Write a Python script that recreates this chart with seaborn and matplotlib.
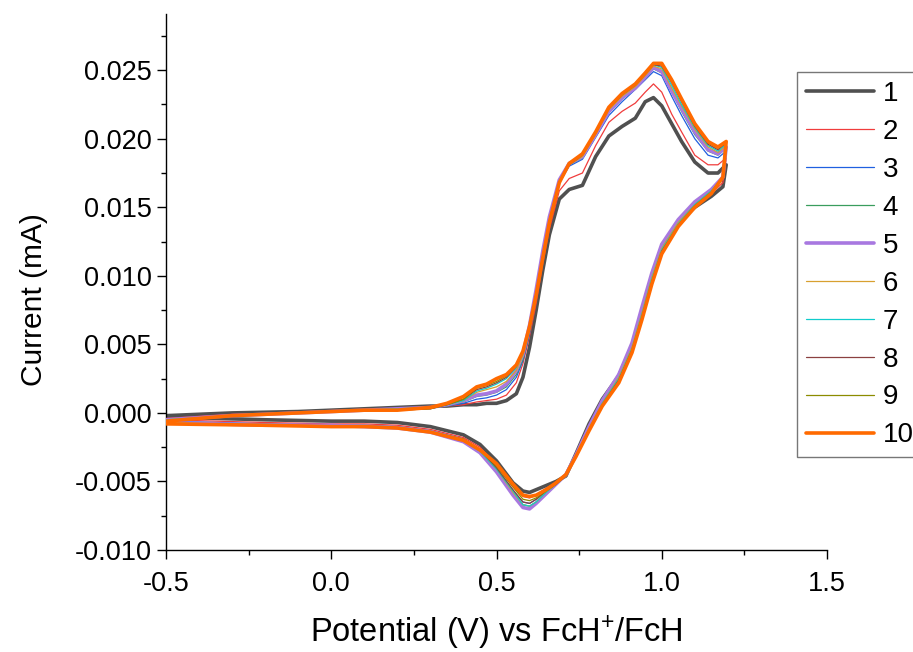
import matplotlib
matplotlib.use("Agg")
import matplotlib.pyplot as plt
from matplotlib.ticker import MultipleLocator, FormatStrFormatter
import seaborn as sns
import pandas as pd

# ---------------- data ----------------
cycles = ["1", "2", "3", "4", "5", "6", "7", "8", "9", "10"]
colors = ["#505050", "#f03c3c", "#2060e0", "#3a9d5d", "#a878e0",
          "#d8a030", "#10cccc", "#8b4040", "#8c8c00", "#ff6a00"]
widths = [2.6, 0.9, 0.9, 0.9, 2.6, 0.9, 0.9, 0.9, 0.9, 2.6]

# forward (anodic) scan potentials, V
E_fwd = [-0.5, -0.3, -0.1, 0.0, 0.1, 0.2, 0.3, 0.35, 0.4, 0.44, 0.47, 0.5,
         0.53, 0.56, 0.58, 0.6, 0.62, 0.64, 0.66, 0.69, 0.72, 0.76, 0.8,
         0.84, 0.88, 0.92, 0.95, 0.975, 1.0, 1.03, 1.06, 1.1, 1.14, 1.17, 1.195]
# reverse (cathodic) scan potentials, V
E_rev = [1.195, 1.185, 1.15, 1.1, 1.05, 1.0, 0.97, 0.94, 0.91, 0.87, 0.82,
         0.78, 0.74, 0.71, 0.68, 0.65, 0.62, 0.6, 0.58, 0.55, 0.5, 0.45, 0.4,
         0.3, 0.2, 0.1, 0.0, -0.2, -0.5]

I_fwd_1 = [-0.0002, 0.0000, 0.0001, 0.0002, 0.0003, 0.0004, 0.0005, 0.0005, 0.0006, 0.0006, 0.0007, 0.0007, 0.0009, 0.0014, 0.0026, 0.0048, 0.0075, 0.0104, 0.0130, 0.0156, 0.0163, 0.0166, 0.0187, 0.0202, 0.0209, 0.0215, 0.0227, 0.0230, 0.0224, 0.0211, 0.0198, 0.0183, 0.0175, 0.0175, 0.0181]
I_fwd_2 = [-0.0004, -0.0001, 0.0000, 0.0001, 0.0002, 0.0003, 0.0004, 0.0005, 0.0006, 0.0008, 0.0009, 0.0010, 0.0013, 0.0022, 0.0036, 0.0056, 0.0080, 0.0109, 0.0134, 0.0162, 0.0171, 0.0175, 0.0195, 0.0212, 0.0220, 0.0226, 0.0234, 0.0240, 0.0234, 0.0218, 0.0205, 0.0188, 0.0181, 0.0181, 0.0186]
I_fwd_3 = [-0.0005, -0.0002, 0.0000, 0.0001, 0.0002, 0.0003, 0.0004, 0.0005, 0.0007, 0.0010, 0.0011, 0.0013, 0.0017, 0.0026, 0.0038, 0.0058, 0.0084, 0.0112, 0.0139, 0.0168, 0.0180, 0.0185, 0.0201, 0.0217, 0.0227, 0.0236, 0.0243, 0.0249, 0.0246, 0.0231, 0.0217, 0.0200, 0.0188, 0.0186, 0.0191]
I_fwd_4 = [-0.0005, -0.0002, 0.0000, 0.0001, 0.0002, 0.0003, 0.0004, 0.0005, 0.0008, 0.0012, 0.0013, 0.0015, 0.0019, 0.0028, 0.0039, 0.0059, 0.0085, 0.0113, 0.0139, 0.0168, 0.0181, 0.0186, 0.0202, 0.0219, 0.0229, 0.0237, 0.0244, 0.0251, 0.0248, 0.0234, 0.0220, 0.0203, 0.0191, 0.0188, 0.0193]
I_fwd_5 = [-0.0005, -0.0002, 0.0000, 0.0001, 0.0002, 0.0003, 0.0004, 0.0006, 0.0009, 0.0013, 0.0014, 0.0016, 0.0021, 0.0031, 0.0043, 0.0064, 0.0090, 0.0118, 0.0143, 0.0170, 0.0182, 0.0187, 0.0203, 0.0220, 0.0230, 0.0237, 0.0245, 0.0252, 0.0249, 0.0235, 0.0222, 0.0205, 0.0192, 0.0189, 0.0194]
I_fwd_6 = [-0.0005, -0.0002, 0.0000, 0.0001, 0.0002, 0.0003, 0.0004, 0.0006, 0.0009, 0.0015, 0.0017, 0.0019, 0.0023, 0.0031, 0.0042, 0.0062, 0.0087, 0.0114, 0.0140, 0.0168, 0.0181, 0.0187, 0.0203, 0.0221, 0.0231, 0.0238, 0.0246, 0.0253, 0.0251, 0.0237, 0.0224, 0.0207, 0.0194, 0.0190, 0.0195]
I_fwd_7 = [-0.0005, -0.0002, 0.0000, 0.0001, 0.0002, 0.0003, 0.0004, 0.0006, 0.0009, 0.0016, 0.0018, 0.0021, 0.0025, 0.0033, 0.0043, 0.0062, 0.0086, 0.0113, 0.0139, 0.0168, 0.0181, 0.0188, 0.0204, 0.0222, 0.0232, 0.0239, 0.0247, 0.0254, 0.0252, 0.0239, 0.0225, 0.0208, 0.0195, 0.0191, 0.0196]
I_fwd_8 = [-0.0006, -0.0002, 0.0000, 0.0001, 0.0002, 0.0002, 0.0003, 0.0006, 0.0010, 0.0017, 0.0019, 0.0022, 0.0026, 0.0034, 0.0044, 0.0062, 0.0086, 0.0113, 0.0139, 0.0168, 0.0181, 0.0188, 0.0204, 0.0222, 0.0232, 0.0239, 0.0247, 0.0254, 0.0253, 0.0241, 0.0227, 0.0209, 0.0196, 0.0192, 0.0197]
I_fwd_9 = [-0.0006, -0.0002, 0.0000, 0.0001, 0.0002, 0.0002, 0.0003, 0.0006, 0.0010, 0.0018, 0.0020, 0.0023, 0.0027, 0.0034, 0.0045, 0.0063, 0.0086, 0.0113, 0.0139, 0.0168, 0.0182, 0.0189, 0.0205, 0.0223, 0.0233, 0.0240, 0.0248, 0.0255, 0.0254, 0.0242, 0.0228, 0.0210, 0.0197, 0.0193, 0.0197]
I_fwd_10 = [-0.0006, -0.0002, 0.0000, 0.0001, 0.0002, 0.0002, 0.0004, 0.0007, 0.0012, 0.0019, 0.0021, 0.0025, 0.0028, 0.0035, 0.0045, 0.0063, 0.0086, 0.0113, 0.0139, 0.0168, 0.0182, 0.0189, 0.0205, 0.0223, 0.0233, 0.0240, 0.0248, 0.0255, 0.0255, 0.0243, 0.0229, 0.0211, 0.0198, 0.0194, 0.0198]

I_rev_1 = [0.0181, 0.0165, 0.0158, 0.0150, 0.0139, 0.0120, 0.0098, 0.0073, 0.0049, 0.0027, 0.0010, -0.0008, -0.0030, -0.0046, -0.0050, -0.0053, -0.0056, -0.0058, -0.0057, -0.0051, -0.0035, -0.0023, -0.0016, -0.0010, -0.0007, -0.0006, -0.0006, -0.0005, -0.0003]
I_rev_2 = [0.0186, 0.0168, 0.0160, 0.0152, 0.0139, 0.0120, 0.0098, 0.0072, 0.0048, 0.0026, 0.0008, -0.0010, -0.0031, -0.0046, -0.0051, -0.0055, -0.0060, -0.0062, -0.0061, -0.0054, -0.0038, -0.0025, -0.0018, -0.0012, -0.0009, -0.0008, -0.0008, -0.0007, -0.0005]
I_rev_3 = [0.0191, 0.0171, 0.0163, 0.0154, 0.0141, 0.0122, 0.0101, 0.0075, 0.0050, 0.0028, 0.0009, -0.0010, -0.0031, -0.0045, -0.0051, -0.0057, -0.0063, -0.0066, -0.0065, -0.0057, -0.0040, -0.0027, -0.0019, -0.0013, -0.0010, -0.0009, -0.0009, -0.0008, -0.0006]
I_rev_4 = [0.0193, 0.0172, 0.0163, 0.0153, 0.0140, 0.0121, 0.0100, 0.0074, 0.0049, 0.0027, 0.0008, -0.0011, -0.0032, -0.0045, -0.0052, -0.0058, -0.0065, -0.0068, -0.0067, -0.0059, -0.0042, -0.0028, -0.0020, -0.0014, -0.0011, -0.0010, -0.0009, -0.0009, -0.0007]
I_rev_5 = [0.0194, 0.0172, 0.0163, 0.0154, 0.0141, 0.0123, 0.0102, 0.0077, 0.0051, 0.0028, 0.0009, -0.0010, -0.0031, -0.0045, -0.0052, -0.0059, -0.0066, -0.0070, -0.0069, -0.0060, -0.0043, -0.0029, -0.0021, -0.0014, -0.0011, -0.0010, -0.0009, -0.0009, -0.0007]
I_rev_6 = [0.0195, 0.0172, 0.0162, 0.0152, 0.0139, 0.0120, 0.0099, 0.0073, 0.0048, 0.0026, 0.0007, -0.0011, -0.0032, -0.0046, -0.0052, -0.0058, -0.0065, -0.0068, -0.0067, -0.0058, -0.0041, -0.0028, -0.0020, -0.0014, -0.0011, -0.0010, -0.0010, -0.0009, -0.0007]
I_rev_7 = [0.0196, 0.0172, 0.0162, 0.0152, 0.0138, 0.0119, 0.0098, 0.0072, 0.0047, 0.0025, 0.0007, -0.0012, -0.0032, -0.0046, -0.0052, -0.0058, -0.0065, -0.0068, -0.0067, -0.0057, -0.0041, -0.0028, -0.0020, -0.0014, -0.0011, -0.0010, -0.0010, -0.0009, -0.0008]
I_rev_8 = [0.0197, 0.0172, 0.0161, 0.0151, 0.0137, 0.0118, 0.0096, 0.0070, 0.0046, 0.0024, 0.0006, -0.0012, -0.0032, -0.0046, -0.0052, -0.0057, -0.0063, -0.0066, -0.0065, -0.0056, -0.0040, -0.0027, -0.0020, -0.0014, -0.0011, -0.0010, -0.0010, -0.0009, -0.0008]
I_rev_9 = [0.0197, 0.0172, 0.0161, 0.0151, 0.0137, 0.0117, 0.0095, 0.0069, 0.0045, 0.0023, 0.0005, -0.0013, -0.0032, -0.0045, -0.0052, -0.0057, -0.0062, -0.0064, -0.0063, -0.0054, -0.0039, -0.0027, -0.0019, -0.0014, -0.0011, -0.0010, -0.0010, -0.0009, -0.0008]
I_rev_10 = [0.0198, 0.0172, 0.0160, 0.0150, 0.0136, 0.0116, 0.0094, 0.0068, 0.0044, 0.0022, 0.0005, -0.0013, -0.0032, -0.0045, -0.0051, -0.0056, -0.0060, -0.0061, -0.0060, -0.0052, -0.0037, -0.0027, -0.0020, -0.0014, -0.0011, -0.0010, -0.0010, -0.0009, -0.0008]

I_fwd = [I_fwd_1, I_fwd_2, I_fwd_3, I_fwd_4, I_fwd_5,
         I_fwd_6, I_fwd_7, I_fwd_8, I_fwd_9, I_fwd_10]
I_rev = [I_rev_1, I_rev_2, I_rev_3, I_rev_4, I_rev_5,
         I_rev_6, I_rev_7, I_rev_8, I_rev_9, I_rev_10]

x_ticks = [-0.5, 0.0, 0.5, 1.0, 1.5]
y_ticks = [-0.010, -0.005, 0.000, 0.005, 0.010, 0.015, 0.020, 0.025]

# ---------------- styling ----------------
sns.set_style("ticks")
plt.rcParams["font.family"] = ["Liberation Sans", "DejaVu Sans"]
plt.rcParams["mathtext.fontset"] = "custom"
plt.rcParams["mathtext.rm"] = "Liberation Sans"
plt.rcParams["mathtext.it"] = "Liberation Sans:italic"
plt.rcParams["axes.unicode_minus"] = False
plt.rcParams["text.color"] = "black"
plt.rcParams["axes.labelcolor"] = "black"
plt.rcParams["xtick.color"] = "black"
plt.rcParams["ytick.color"] = "black"
plt.rcParams["xtick.labelcolor"] = "black"
plt.rcParams["ytick.labelcolor"] = "black"

fig = plt.figure(figsize=(9.13, 6.52), dpi=100)
ax = fig.add_axes([166 / 913, 1 - 550 / 652, (827 - 166) / 913, (550 - 14) / 652])

for k, cyc in enumerate(cycles):
    df = pd.DataFrame({
        "E": E_fwd + E_rev,
        "I": I_fwd[k] + I_rev[k],
    })
    sns.lineplot(data=df, x="E", y="I", sort=False, estimator=None,
                 color=colors[k], linewidth=widths[k], label=cyc, ax=ax,
                 zorder=2 + k)

ax.set_xlim(-0.5, 1.5)
ax.set_ylim(-0.010, 0.0291)
ax.set_xticks(x_ticks)
ax.set_yticks(y_ticks)
ax.xaxis.set_minor_locator(MultipleLocator(0.25))
ax.yaxis.set_minor_locator(MultipleLocator(0.0025))
ax.xaxis.set_major_formatter(FormatStrFormatter("%.1f"))
ax.yaxis.set_major_formatter(FormatStrFormatter("%.3f"))
ax.tick_params(axis="both", which="major", direction="out", length=6.5,
               width=1.0, labelsize=19.5, color="black", labelcolor="black",
               pad=4)
ax.tick_params(axis="x", which="major", pad=8.5)
ax.tick_params(axis="both", which="minor", direction="out", length=3.5,
               width=1.0, color="black")
for s in ["top", "right"]:
    ax.spines[s].set_visible(False)
for s in ["left", "bottom"]:
    ax.spines[s].set_linewidth(1.0)
    ax.spines[s].set_color("black")

ax.set_xlabel("Potential (V) vs FcH$^{+}$/FcH", fontsize=23.5, labelpad=12,
              color="black")
ax.set_ylabel("Current (mA)", fontsize=21.5, color="black")
ax.yaxis.set_label_coords((48 - 166) / 661, (550 - 300) / 536)

ax.get_legend().remove()
handles, labels = ax.get_legend_handles_labels()
leg = fig.legend(handles, labels, loc="upper left",
                 bbox_to_anchor=(797 / 913, 1 - 72 / 652),
                 bbox_transform=fig.transFigure,
                 fontsize=20, frameon=True, fancybox=False,
                 edgecolor="#555555", handlelength=2.45, handletextpad=0.32,
                 labelspacing=0.43, borderpad=0.32, borderaxespad=0,
                 labelcolor="black")
leg.get_frame().set_linewidth(1.0)

fig.savefig("out.png", dpi=100)
